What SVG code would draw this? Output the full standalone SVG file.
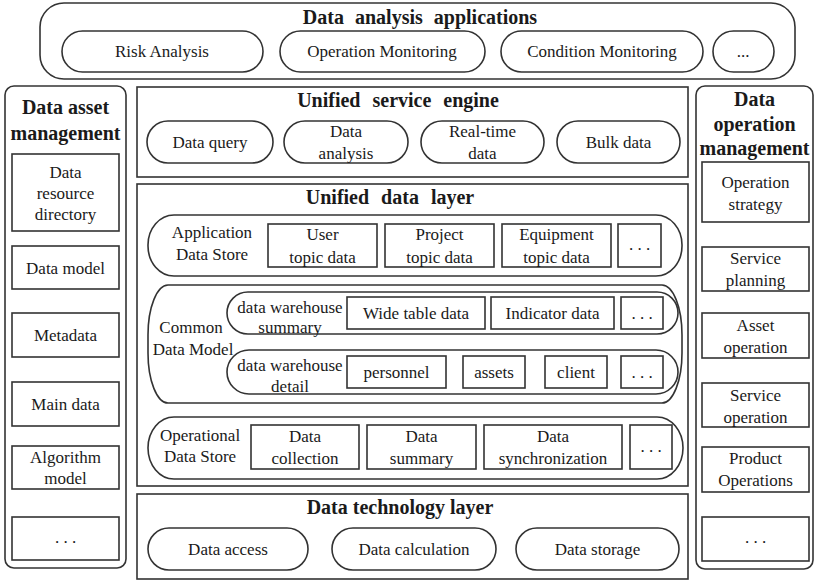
<svg xmlns="http://www.w3.org/2000/svg" width="814" height="585" viewBox="0 0 814 585">
  <style>
    .frame { fill: none; stroke: #333; stroke-width: 1.6; }
    .box { fill: #fff; stroke: #333; stroke-width: 1.6; }
    .t { font-family: "Liberation Serif", "Times New Roman", serif; font-size: 17px; fill: #1a1a1a; text-anchor: middle; }
    .h { font-family: "Liberation Serif", "Times New Roman", serif; font-size: 20px; font-weight: bold; fill: #1a1a1a; text-anchor: middle; }
  </style>
  <rect width="814" height="585" fill="#fff"/>

  <!-- Data analysis applications -->
  <g id="apps">
    <rect class="frame" x="40" y="3" width="755" height="76" rx="24" ry="24"/>
    <text class="h" x="420" y="24" word-spacing="6">Data analysis applications</text>
    <g id="app-risk"><rect class="box" x="62" y="31" width="201" height="41" rx="20.5"/><text class="t" x="162" y="57">Risk Analysis</text></g>
    <g id="app-opmon"><rect class="box" x="280" y="31" width="205" height="41" rx="20.5"/><text class="t" x="382" y="57">Operation Monitoring</text></g>
    <g id="app-condmon"><rect class="box" x="501" y="31" width="202" height="41" rx="20.5"/><text class="t" x="602" y="57">Condition Monitoring</text></g>
    <g id="app-more"><rect class="box" x="713" y="31" width="61" height="41" rx="20.5"/><text class="t" x="743" y="57">...</text></g>
  </g>

  <!-- Data asset management -->
  <g id="asset-mgmt">
    <rect class="frame" x="5" y="86" width="121" height="482" rx="9"/>
    <text class="h" x="65.5" y="114">Data asset</text>
    <text class="h" x="65.5" y="140">management</text>
    <g id="asset-dir"><rect class="box" x="12" y="154" width="107" height="77"/>
      <text class="t" x="65.5" y="178">Data</text><text class="t" x="65.5" y="199">resource</text><text class="t" x="65.5" y="220">directory</text></g>
    <g id="asset-model"><rect class="box" x="12" y="246" width="107" height="43"/><text class="t" x="65.5" y="274">Data model</text></g>
    <g id="asset-meta"><rect class="box" x="12" y="313" width="107" height="44"/><text class="t" x="65.5" y="341">Metadata</text></g>
    <g id="asset-main"><rect class="box" x="12" y="382" width="107" height="44"/><text class="t" x="65.5" y="410">Main data</text></g>
    <g id="asset-algo"><rect class="box" x="12" y="446" width="107" height="43"/>
      <text class="t" x="65.5" y="463">Algorithm</text><text class="t" x="65.5" y="484">model</text></g>
    <g id="asset-more"><rect class="box" x="12" y="517" width="107" height="43"/><text class="t" x="65.5" y="543">. . .</text></g>
  </g>

  <!-- Data operation management -->
  <g id="ops-mgmt">
    <rect class="frame" x="696" y="86" width="117" height="483" rx="9"/>
    <text class="h" x="754.5" y="106">Data</text>
    <text class="h" x="754.5" y="131">operation</text>
    <text class="h" x="754.5" y="155">management</text>
    <g id="ops-strategy"><rect class="box" x="702" y="162" width="107" height="60"/>
      <text class="t" x="755.5" y="188">Operation</text><text class="t" x="755.5" y="210">strategy</text></g>
    <g id="ops-planning"><rect class="box" x="702" y="247" width="107" height="44"/>
      <text class="t" x="755.5" y="264">Service</text><text class="t" x="755.5" y="286">planning</text></g>
    <g id="ops-asset"><rect class="box" x="702" y="313" width="107" height="45"/>
      <text class="t" x="755.5" y="331">Asset</text><text class="t" x="755.5" y="353">operation</text></g>
    <g id="ops-service"><rect class="box" x="702" y="383" width="107" height="44"/>
      <text class="t" x="755.5" y="401">Service</text><text class="t" x="755.5" y="423">operation</text></g>
    <g id="ops-product"><rect class="box" x="702" y="447" width="107" height="45"/>
      <text class="t" x="755.5" y="464">Product</text><text class="t" x="755.5" y="486">Operations</text></g>
    <g id="ops-more"><rect class="box" x="702" y="517" width="107" height="44"/><text class="t" x="755.5" y="543">. . .</text></g>
  </g>

  <!-- Unified service engine -->
  <g id="service-engine">
    <rect class="frame" x="137" y="87" width="551" height="90"/>
    <text class="h" x="398" y="107" word-spacing="7">Unified service engine</text>
    <g id="svc-query"><rect class="box" x="147" y="121" width="126" height="42" rx="21"/><text class="t" x="210" y="148">Data query</text></g>
    <g id="svc-analysis"><rect class="box" x="284" y="121" width="124" height="42" rx="21"/>
      <text class="t" x="346" y="137">Data</text><text class="t" x="346" y="159">analysis</text></g>
    <g id="svc-realtime"><rect class="box" x="421" y="121" width="123" height="42" rx="21"/>
      <text class="t" x="482.5" y="137">Real-time</text><text class="t" x="482.5" y="159">data</text></g>
    <g id="svc-bulk"><rect class="box" x="557" y="121" width="123" height="42" rx="21"/><text class="t" x="618.5" y="148">Bulk data</text></g>
  </g>

  <!-- Unified data layer -->
  <g id="data-layer">
    <rect class="frame" x="137" y="184" width="551" height="302"/>
    <text class="h" x="390" y="204" word-spacing="7">Unified data layer</text>

    <g id="ads">
      <rect class="box" x="148" y="215" width="534" height="61" rx="26" ry="30"/>
      <text class="t" x="212" y="238">Application</text><text class="t" x="212" y="260">Data Store</text>
      <g id="ads-user"><rect class="box" x="268" y="224" width="109" height="43"/>
        <text class="t" x="322.5" y="240">User</text><text class="t" x="322.5" y="263">topic data</text></g>
      <g id="ads-project"><rect class="box" x="385" y="224" width="109" height="43"/>
        <text class="t" x="439.5" y="240">Project</text><text class="t" x="439.5" y="263">topic data</text></g>
      <g id="ads-equipment"><rect class="box" x="502" y="224" width="109" height="43"/>
        <text class="t" x="556.5" y="240">Equipment</text><text class="t" x="556.5" y="263">topic data</text></g>
      <g id="ads-more"><rect class="box" x="618" y="224" width="43" height="43"/><text class="t" x="639.5" y="250">. . .</text></g>
    </g>

    <g id="cdm">
      <rect class="box" x="148" y="285" width="534" height="118" rx="20" ry="50"/>
      <text class="t" x="191" y="333">Common</text><text class="t" x="193" y="355">Data Model</text>
      <g id="dws">
        <rect class="box" x="227" y="292" width="451" height="42" rx="21"/>
        <text class="t" x="290" y="313">data warehouse</text><text class="t" x="290" y="333">summary</text>
        <g id="dws-wide"><rect class="box" x="347" y="297" width="138" height="32"/><text class="t" x="416" y="319">Wide table data</text></g>
        <g id="dws-indicator"><rect class="box" x="491" y="297" width="123" height="32"/><text class="t" x="552.5" y="319">Indicator data</text></g>
        <g id="dws-more"><rect class="box" x="621" y="297" width="42" height="32"/><text class="t" x="642" y="319">. . .</text></g>
      </g>
      <g id="dwd">
        <rect class="box" x="227" y="350" width="451" height="44" rx="22"/>
        <text class="t" x="290" y="371">data warehouse</text><text class="t" x="290" y="392">detail</text>
        <g id="dwd-personnel"><rect class="box" x="347" y="356" width="99" height="32"/><text class="t" x="396.5" y="378">personnel</text></g>
        <g id="dwd-assets"><rect class="box" x="463" y="356" width="62" height="32"/><text class="t" x="494" y="378">assets</text></g>
        <g id="dwd-client"><rect class="box" x="545" y="356" width="62" height="32"/><text class="t" x="576" y="378">client</text></g>
        <g id="dwd-more"><rect class="box" x="621" y="356" width="42" height="32"/><text class="t" x="642" y="378">. . .</text></g>
      </g>
    </g>

    <g id="ods">
      <rect class="box" x="148" y="417" width="535" height="62" rx="26" ry="31"/>
      <text class="t" x="200" y="441">Operational</text><text class="t" x="200" y="462">Data Store</text>
      <g id="ods-collection"><rect class="box" x="251" y="425" width="108" height="44"/>
        <text class="t" x="305" y="442">Data</text><text class="t" x="305" y="464">collection</text></g>
      <g id="ods-summary"><rect class="box" x="367" y="425" width="109" height="44"/>
        <text class="t" x="421.5" y="442">Data</text><text class="t" x="421.5" y="464">summary</text></g>
      <g id="ods-sync"><rect class="box" x="484" y="425" width="138" height="44"/>
        <text class="t" x="553" y="442">Data</text><text class="t" x="553" y="464">synchronization</text></g>
      <g id="ods-more"><rect class="box" x="630" y="425" width="42" height="44"/><text class="t" x="651" y="452">. . .</text></g>
    </g>
  </g>

  <!-- Data technology layer -->
  <g id="tech-layer">
    <rect class="frame" x="137" y="494" width="551" height="85"/>
    <text class="h" x="400" y="514">Data technology layer</text>
    <g id="tech-access"><rect class="box" x="148" y="528" width="160" height="42" rx="21"/><text class="t" x="228" y="555">Data access</text></g>
    <g id="tech-calc"><rect class="box" x="332" y="528" width="164" height="42" rx="21"/><text class="t" x="414" y="555">Data calculation</text></g>
    <g id="tech-storage"><rect class="box" x="516" y="528" width="163" height="42" rx="21"/><text class="t" x="597.5" y="555">Data storage</text></g>
  </g>

  <!-- no connectors in this layered architecture -->
  <g id="connectors"/>
</svg>
